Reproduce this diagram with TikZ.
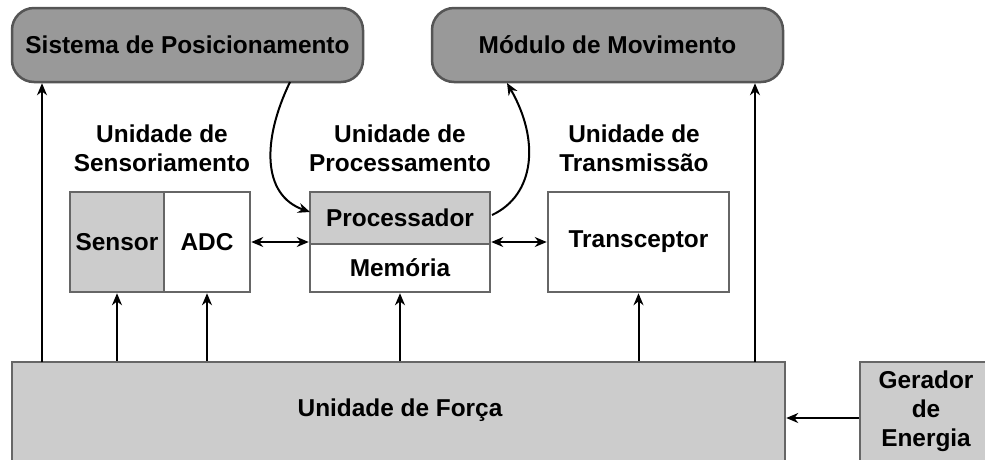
\documentclass[tikz,border=0pt]{standalone}
\usepackage{fontspec}
\setmainfont{Liberation Sans}
\usetikzlibrary{arrows.meta}

\definecolor{darkfill}{HTML}{999999}
\definecolor{lightfill}{HTML}{CCCCCC}
\definecolor{edgegray}{HTML}{666666}
\definecolor{darkedge}{HTML}{555555}
\definecolor{txt}{HTML}{000000}

\tikzset{
  lbl/.style={font=\fontsize{24.4}{29}\selectfont\bfseries, text=txt, align=center},
  topbox/.style={lbl, draw=darkedge, line width=2.5pt, fill=darkfill,
    rounded corners=22pt, minimum width=351pt, minimum height=74pt, inner sep=0pt},
  unitbox/.style={lbl, draw=edgegray, line width=2.5pt, inner sep=0pt},
  conn/.style={line width=2pt, -{Stealth[length=12pt,width=10pt]}},
  biconn/.style={line width=2pt, {Stealth[length=12pt,width=10pt]}-{Stealth[length=12pt,width=10pt]}},
}

\begin{document}
\begin{tikzpicture}[x=1pt, y=-1pt]
  \useasboundingbox (0,0) rectangle (985,459);

  % outer systems
  \node[topbox] (sistema) at (187.5,45) {Sistema de Posicionamento};
  \node[topbox] (modulo)  at (607.5,45) {M\'odulo de Movimento};

  % sensing unit
  \node[unitbox, fill=lightfill, minimum width=94pt, minimum height=100pt] (sensor) at (117,242) {Sensor};
  \node[unitbox, fill=white, minimum width=86pt, minimum height=100pt] (adc) at (207,242) {ADC};

  % processing unit
  \node[unitbox, fill=lightfill, minimum width=180pt, minimum height=52pt] (proc) at (400,218) {Processador};
  \node[unitbox, fill=white, minimum width=180pt, minimum height=48pt] (mem) at (400,268) {Mem\'oria};

  % transmission unit
  \node[unitbox, fill=white, minimum width=181pt, minimum height=100pt] (trans) at (638.5,242) {Transceptor};

  % power
  \node[unitbox, fill=lightfill, minimum width=773pt, minimum height=110pt] (forca) at (398.5,417) {};
  \node[lbl] (forcatxt) at (400,410) {Unidade de For\c{c}a};
  \node[unitbox, fill=lightfill, minimum width=140pt, minimum height=110pt] (gerador) at (930,417) {};
  \node[lbl] (gertxt) at (926,411) {Gerador\\de\\Energia};

  % unit titles
  \node[lbl] (tsens)  at (162,148) {Unidade de\\Sensoriamento};
  \node[lbl] (tproc)  at (400,148) {Unidade de\\Processamento};
  \node[lbl] (ttrans) at (634,148) {Unidade de\\Transmiss\~ao};

  % data paths
  \draw[biconn] (adc.east) -- (adc.east -| proc.west);
  \draw[biconn] (trans.west -| proc.east) -- (trans.west);

  % control paths
  \coordinate (sisout) at (290,82);
  \coordinate (procin) at (310,212);
  \draw[conn] (sisout) .. controls (262,140) and (262,195) .. (procin);
  \coordinate (procout) at (492,215);
  \coordinate (modin) at (507,83);
  \draw[conn] (procout) .. controls (535,195) and (540,140) .. (modin);

  % power distribution
  \coordinate (p1) at (42,362);
  \coordinate (p6) at (755,362);
  \draw[conn] (p1) -- (p1 |- sistema.south);
  \draw[conn] (sensor.south |- forca.north) -- (sensor.south);
  \draw[conn] (adc.south |- forca.north) -- (adc.south);
  \draw[conn] (mem.south |- forca.north) -- (mem.south);
  \draw[conn] (trans.south |- forca.north) -- (trans.south);
  \draw[conn] (p6) -- (p6 |- modulo.south);
  \draw[conn] (gerador.west |- 0,418) -- (forca.east |- 0,418);
\end{tikzpicture}
\end{document}
